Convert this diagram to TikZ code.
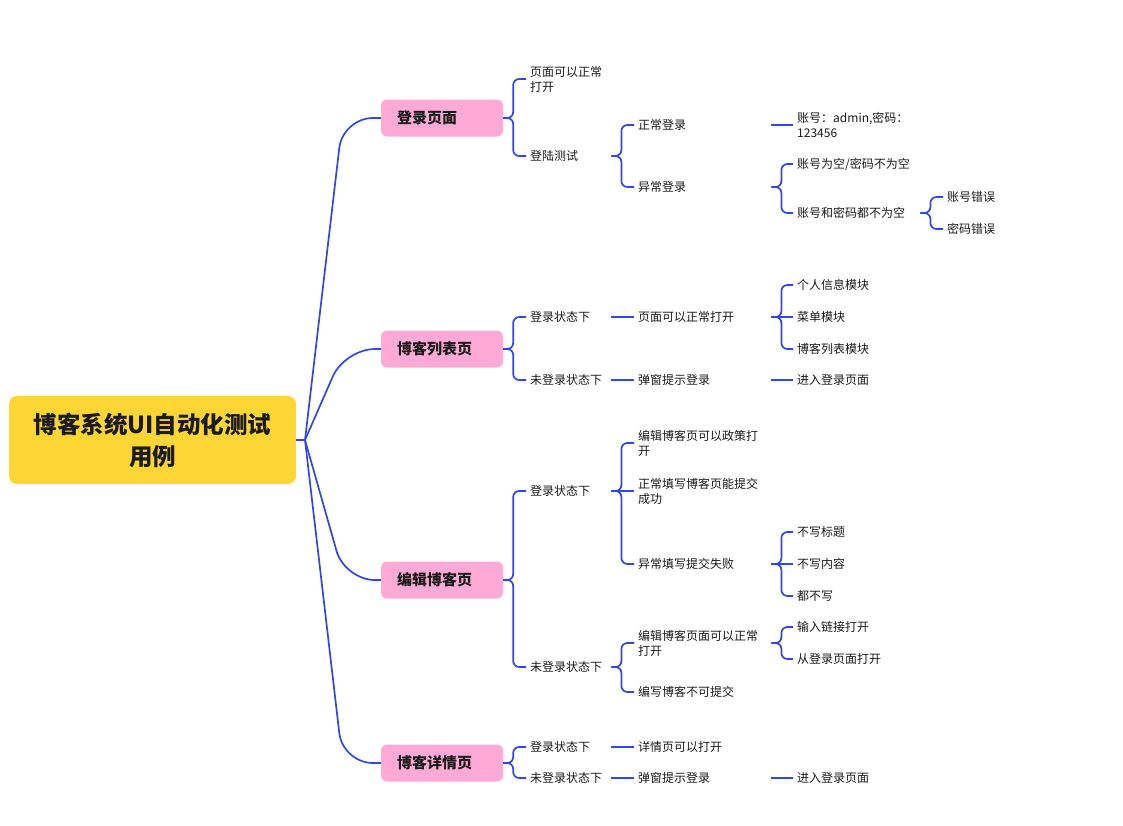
\documentclass[tikz,border=0pt]{standalone}
\usepackage{fontspec}
\setmainfont{Noto Sans CJK SC}
\usepackage{tikz}
\usetikzlibrary{calc}
\definecolor{linkblue}{RGB}{51,70,224}
\definecolor{topicpink}{RGB}{255,170,214}
\definecolor{rootyellow}{RGB}{253,213,52}
\definecolor{ink}{RGB}{26,26,26}
\tikzset{
  rootbox/.style={rectangle, rounded corners=8pt, fill=rootyellow, minimum width=287pt, minimum height=88pt, inner sep=0pt, align=center, text=ink, font=\fontsize{23.5}{32}\selectfont\bfseries},
  topicbox/.style={rectangle, rounded corners=6pt, fill=topicpink, text width=90pt, inner xsep=16pt, inner ysep=0pt, minimum height=37pt, align=left, text=ink, font=\fontsize{15}{18}\selectfont\bfseries},
  item/.style={anchor=west, inner xsep=4pt, inner ysep=2pt, align=left, text=ink, font=\fontsize{12}{15}\selectfont},
  itemtwo/.style={item, text width=77pt},
  itemthree/.style={item, text width=129pt},
  itemfour/.style={item, text width=119pt},
  itemfive/.style={item, text width=60pt},
  link/.style={draw=linkblue, line width=1.7pt, rounded corners=6pt},
}
\newcommand{\branch}[2]{\draw[link] (#1.east) -- ++(10,0) |- (#2.west);}
\newcommand{\straight}[2]{\draw[link] (#1.east) -- (#2.west);}

\begin{document}
\begin{tikzpicture}[x=1pt, y=-1pt]
  \useasboundingbox (0,0) rectangle (1123,825);
  % Root
  \node[rootbox] (root) at (152.5,440) {博客系统UI自动化测试\\用例};
  \coordinate (hub) at (305,440);
  % Topics
  \node[topicbox] (login) at (442,118) {登录页面};
  \node[topicbox] (list) at (442,349) {博客列表页};
  \node[topicbox] (edit) at (442,580) {编辑博客页};
  \node[topicbox] (detail) at (442,763) {博客详情页};

  % Login page
  \node[itemtwo] (lopen) at (526,79) {页面可以正常\\打开};
  \node[itemtwo] (ltest) at (526,156) {登陆测试};
  \node[itemthree] (ok-login) at (634,125) {正常登录};
  \node[itemthree] (bad-login) at (634,187) {异常登录};
  \node[itemfour] (acct) at (793,125) {账号：admin,密码：\\123456};
  \node[itemfour] (empty) at (793,164) {账号为空/密码不为空};
  \node[itemfour] (filled) at (793,213) {账号和密码都不为空};
  \node[itemfive] (bad-user) at (943,197) {账号错误};
  \node[itemfive] (bad-pass) at (943,229) {密码错误};

  % Blog list page
  \node[itemtwo] (lst-in) at (526,317) {登录状态下};
  \node[itemtwo] (lst-out) at (526,380) {未登录状态下};
  \node[itemthree] (lst-page) at (634,317) {页面可以正常打开};
  \node[itemthree] (lst-pop) at (634,380) {弹窗提示登录};
  \node[itemfour] (m-info) at (793,285) {个人信息模块};
  \node[itemfour] (m-menu) at (793,317) {菜单模块};
  \node[itemfour] (m-list) at (793,349) {博客列表模块};
  \node[itemfour] (lst-goto) at (793,380) {进入登录页面};

  % Edit page
  \node[itemtwo] (edt-in) at (526,491) {登录状态下};
  \node[itemtwo] (edt-out) at (526,667) {未登录状态下};
  \node[itemthree] (edt-open) at (634,443) {编辑博客页可以政策打\\开};
  \node[itemthree] (edt-ok) at (634,491) {正常填写博客页能提交\\成功};
  \node[itemthree] (edt-bad) at (634,564) {异常填写提交失败};
  \node[itemthree] (edt-open2) at (634,643) {编辑博客页面可以正常\\打开};
  \node[itemthree] (edt-no) at (634,692) {编写博客不可提交};
  \node[itemfour] (no-title) at (793,532) {不写标题};
  \node[itemfour] (no-body) at (793,564) {不写内容};
  \node[itemfour] (no-all) at (793,596) {都不写};
  \node[itemfour] (by-link) at (793,627) {输入链接打开};
  \node[itemfour] (by-login) at (793,659) {从登录页面打开};

  % Detail page
  \node[itemtwo] (dtl-in) at (526,747) {登录状态下};
  \node[itemtwo] (dtl-out) at (526,778) {未登录状态下};
  \node[itemthree] (dtl-open) at (634,747) {详情页可以打开};
  \node[itemthree] (dtl-pop) at (634,778) {弹窗提示登录};
  \node[itemfour] (dtl-goto) at (793,778) {进入登录页面};

  % Root -> topics
  \draw[link] (root.east) -- (hub);
  \draw[link, rounded corners=30pt] (hub) -- ($(login.west)+(-38,0)$) -- (login.west);
  \draw[link, rounded corners=30pt] (hub) -- ($(list.west)+(-36,0)$) -- (list.west);
  \draw[link, rounded corners=30pt] (hub) -- ($(edit.west)+(-36,0)$) -- (edit.west);
  \draw[link, rounded corners=30pt] (hub) -- ($(detail.west)+(-38,0)$) -- (detail.west);

  % Login page links
  \branch{login}{lopen}
  \branch{login}{ltest}
  \branch{ltest}{ok-login}
  \branch{ltest}{bad-login}
  \straight{ok-login}{acct}
  \branch{bad-login}{empty}
  \branch{bad-login}{filled}
  \branch{filled}{bad-user}
  \branch{filled}{bad-pass}

  % Blog list links
  \branch{list}{lst-in}
  \branch{list}{lst-out}
  \straight{lst-in}{lst-page}
  \straight{lst-out}{lst-pop}
  \branch{lst-page}{m-info}
  \straight{lst-page}{m-menu}
  \branch{lst-page}{m-list}
  \straight{lst-pop}{lst-goto}

  % Edit page links
  \branch{edit}{edt-in}
  \branch{edit}{edt-out}
  \branch{edt-in}{edt-open}
  \straight{edt-in}{edt-ok}
  \branch{edt-in}{edt-bad}
  \branch{edt-bad}{no-title}
  \straight{edt-bad}{no-body}
  \branch{edt-bad}{no-all}
  \branch{edt-out}{edt-open2}
  \branch{edt-out}{edt-no}
  \branch{edt-open2}{by-link}
  \branch{edt-open2}{by-login}

  % Detail page links
  \branch{detail}{dtl-in}
  \branch{detail}{dtl-out}
  \straight{dtl-in}{dtl-open}
  \straight{dtl-out}{dtl-pop}
  \straight{dtl-pop}{dtl-goto}
\end{tikzpicture}
\end{document}
